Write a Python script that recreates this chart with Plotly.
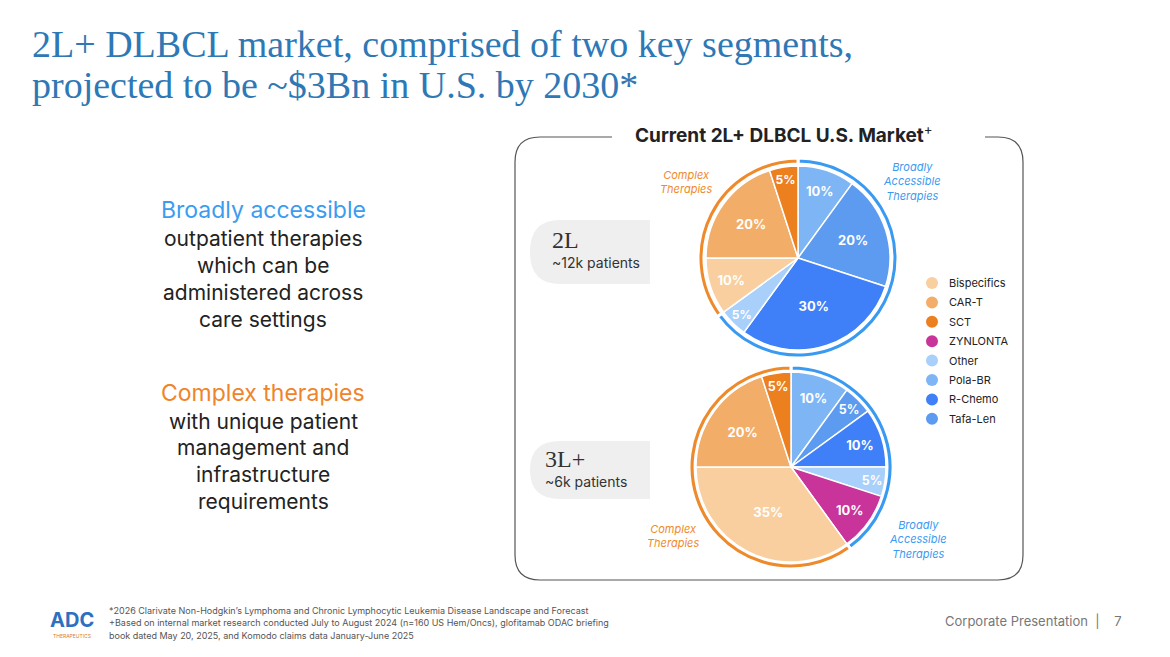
import plotly.graph_objects as go

W, H = 1170, 657
legend_labels = ["Bispecifics", "CAR-T", "SCT", "ZYNLONTA", "Other", "Pola-BR", "R-Chemo", "Tafa-Len"]
colors = {"Bispecifics": "#F9CFA0", "CAR-T": "#F2AD68", "SCT": "#EC7F1E", "ZYNLONTA": "#C8349A",
          "Other": "#A8D0FA", "Pola-BR": "#7DB5F5", "R-Chemo": "#3F7FF7", "Tafa-Len": "#5C9BF0"}

l2_labels = ["Pola-BR", "Tafa-Len", "R-Chemo", "Other", "Bispecifics", "CAR-T", "SCT"]
l2_values = [10, 20, 30, 5, 10, 20, 5]
l3_labels = ["Pola-BR", "Tafa-Len", "R-Chemo", "Other", "ZYNLONTA", "Bispecifics", "CAR-T", "SCT"]
l3_values = [10, 5, 10, 5, 10, 35, 20, 5]
segments = ["Broadly Accessible", "Complex"]
l2_seg = [65, 35]
l3_seg = [40, 60]

def dom(cx, cy, r):
    return dict(x=[(cx - r) / W, (cx + r) / W], y=[(H - cy - r) / H, (H - cy + r) / H])

fig = go.Figure()
for (cx, cy, rp, rr, labs, vals, seg) in [(798, 258, 92, 100, l2_labels, l2_values, l2_seg),
                                        (791, 467, 95, 102, l3_labels, l3_values, l3_seg)]:
    fig.add_trace(go.Pie(labels=segments, values=seg, sort=False, direction="clockwise", hole=0.94,
                         domain=dom(cx, cy, rr), textinfo="none", hoverinfo="skip", showlegend=False,
                         marker=dict(colors=["#3A9AF2", "#EE8A2C"], line=dict(color="white", width=3))))
    fig.add_trace(go.Pie(labels=labs, values=vals, sort=False, direction="clockwise",
                         domain=dom(cx, cy, rp), texttemplate="<b>%{value}%</b>", textposition="inside",
                         insidetextorientation="horizontal",
                         textfont=dict(color="white", size=13, family="Inter"), showlegend=False,
                         marker=dict(colors=[colors[l] for l in labs], line=dict(color="white", width=1.5))))

shapes = []
ann = []
def A(x, y, t, size, color="#222", family="Inter", **kw):
    ann.append(dict(x=x / W, y=1 - y / H, xref="paper", yref="paper", text=t, showarrow=False,
                    yanchor="middle", font=dict(size=size, color=color, family=family), **kw))

def px(p):
    conv = []
    k = 0
    for t in p.split():
        if t.isalpha():
            conv.append(t); k = 0
        else:
            v = float(t)
            conv.append(str(v / W if k % 2 == 0 else 1 - v / H)); k += 1
    return " ".join(conv)

path = "M 612 137 L 540 137 Q 515 137 515 162 L 515 555 Q 515 580 540 580 L 998 580 Q 1023 580 1023 555 L 1023 162 Q 1023 137 998 137 L 985 137"
shapes.append(dict(type="path", path=px(path), xref="paper", yref="paper", line=dict(color="#555", width=1.2)))
for (y0, y1) in [(220, 284), (441, 499)]:
    p = f"M 650 {y0} L 560 {y0} Q 530 {y0} 530 {(y0+y1)/2} Q 530 {y1} 560 {y1} L 650 {y1} Z"
    shapes.append(dict(type="path", path=px(p), xref="paper", yref="paper", fillcolor="#EFEFEF", line=dict(width=0), layer="below"))

A(784, 134, "<b>Current 2L+ DLBCL U.S. Market</b><sup>+</sup>", 19, "#222", "Inter", xanchor="center")
A(30, 44, "2L+ DLBCL market, comprised of two key segments,", 38, "#2E78B5", "Liberation Serif", xanchor="left")
A(30, 85, "projected to be ~$3Bn in U.S. by 2030*", 38, "#2E78B5", "Liberation Serif", xanchor="left")
A(263, 210, "Broadly accessible", 23, "#3B9CF0", xanchor="center")
for i, t in enumerate(["outpatient therapies", "which can be", "administered across", "care settings"]):
    A(263, 239 + i * 26.7, t, 21, "#222", xanchor="center")
A(263, 393, "Complex therapies", 23, "#F0842A", xanchor="center")
for i, t in enumerate(["with unique patient", "management and", "infrastructure", "requirements"]):
    A(263, 421 + i * 26.7, t, 21, "#222", xanchor="center")
A(550, 240, "2L", 24, "#333", "Liberation Serif", xanchor="left")
A(550, 262, "~12k patients", 14, "#333", xanchor="left")
A(543, 459, "3L+", 24, "#333", "Liberation Serif", xanchor="left")
A(543, 481, "~6k patients", 14, "#333", xanchor="left")
A(686, 182, "<i>Complex<br>Therapies</i>", 11, "#EE8A2C", xanchor="center")
A(912, 181, "<i>Broadly<br>Accessible<br>Therapies</i>", 11, "#3A9AF2", xanchor="center")
A(673, 536, "<i>Complex<br>Therapies</i>", 11, "#EE8A2C", xanchor="center")
A(918, 539, "<i>Broadly<br>Accessible<br>Therapies</i>", 11, "#3A9AF2", xanchor="center")
for i, lab in enumerate(legend_labels):
    y = 283 + i * 19.4
    shapes.append(dict(type="circle", xref="paper", yref="paper", x0=(932 - 6) / W, x1=(932 + 6) / W,
                       y0=1 - (y + 6) / H, y1=1 - (y - 6) / H, fillcolor=colors[lab], line=dict(width=0)))
    A(947, y, lab, 11, "#222", xanchor="left")
foot = ["*2026 Clarivate Non-Hodgkin’s Lymphoma and Chronic Lymphocytic Leukemia Disease Landscape and Forecast",
        "+Based on internal market research conducted July to August 2024 (n=160 US Hem/Oncs), glofitamab ODAC briefing",
        "book dated May 20, 2025, and Komodo claims data January-June 2025"]
for i, t in enumerate(foot):
    A(107, 610 + i * 12.5, t, 9, "#555", xanchor="left")
A(72, 620, "<b>ADC</b>", 20, "#2E6FC0", xanchor="center")
A(72, 636, "THERAPEUTICS", 5, "#E07A2A", xanchor="center")
A(1124, 621, "Corporate Presentation  |    7", 13, "#777", xanchor="right")

fig.update_layout(width=W, height=H, margin=dict(l=0, r=0, t=0, b=0), paper_bgcolor="white",
                  plot_bgcolor="white", shapes=shapes, annotations=ann)
fig.write_html("out.html", config={"displayModeBar": False})
with open("out.html", encoding="utf-8") as f:
    html = f.read()
html = html.replace("<body>", '<body style="margin:0;overflow:hidden">', 1)
with open("out.html", "w", encoding="utf-8") as f:
    f.write(html)
